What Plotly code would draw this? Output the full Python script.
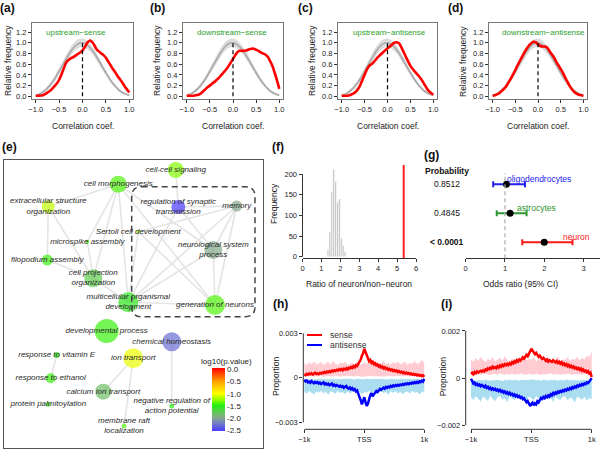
import numpy as np
import plotly.graph_objects as go

W, H = 600, 451
FONT = "Liberation Sans, Arial, sans-serif"

# ---------------- (a)-(d) distribuicao das correlacoes ----------------
corr_titles = ["upstream−sense", "downstream−sense", "upstream−antisense", "downstream−antisense"]

# curva nula (cinza) em -1, -0.9, ..., 1
null_mid = [0.02, 0.05, 0.11, 0.20, 0.32, 0.47, 0.62, 0.77, 0.90, 0.98, 1.00,
            0.96, 0.87, 0.74, 0.59, 0.44, 0.30, 0.19, 0.10, 0.05, 0.02]
null_half = [0.01, 0.02, 0.03, 0.04, 0.05, 0.06, 0.07, 0.08, 0.08, 0.08, 0.08,
             0.08, 0.07, 0.07, 0.06, 0.05, 0.04, 0.03, 0.03, 0.02, 0.01]

# curvas observadas (vermelho) em -1, -0.95, ..., 1
red_a = [0.01, 0.01, 0.015, 0.02, 0.04, 0.07, 0.10, 0.14, 0.19, 0.24, 0.31, 0.41, 0.52, 0.63,
         0.68, 0.71, 0.73, 0.76, 0.79, 0.82, 0.86, 0.92, 1.00, 1.04, 1.02, 0.96, 0.88, 0.84,
         0.80, 0.77, 0.72, 0.65, 0.58, 0.51, 0.45, 0.38, 0.32, 0.26, 0.19, 0.13, 0.07]
red_b = [0.01, 0.01, 0.01, 0.012, 0.02, 0.03, 0.05, 0.09, 0.13, 0.17, 0.20, 0.24, 0.27, 0.31,
         0.35, 0.40, 0.45, 0.50, 0.56, 0.63, 0.70, 0.77, 0.83, 0.85, 0.85, 0.85, 0.86, 0.88,
         0.89, 0.89, 0.87, 0.85, 0.82, 0.80, 0.78, 0.74, 0.66, 0.57, 0.44, 0.30, 0.14]
red_c = [0.01, 0.01, 0.01, 0.015, 0.03, 0.05, 0.08, 0.13, 0.20, 0.30, 0.40, 0.50, 0.57, 0.60,
         0.64, 0.69, 0.74, 0.78, 0.82, 0.86, 0.90, 0.93, 0.97, 1.00, 1.01, 0.99, 0.92, 0.83,
         0.74, 0.65, 0.57, 0.51, 0.46, 0.41, 0.36, 0.30, 0.23, 0.16, 0.10, 0.06, 0.03]
red_d = [0.01, 0.02, 0.04, 0.06, 0.10, 0.14, 0.19, 0.26, 0.33, 0.41, 0.49, 0.58, 0.66, 0.74,
         0.82, 0.89, 0.95, 0.99, 1.02, 1.01, 0.97, 0.94, 0.93, 0.93, 0.91, 0.85, 0.79, 0.73,
         0.65, 0.58, 0.51, 0.44, 0.35, 0.27, 0.19, 0.13, 0.08, 0.05, 0.03, 0.02, 0.01]

# ---------------- (e) rede de termos GO ----------------
go_terms = ["cell-cell signaling", "cell morphogenesis", "extracellular structure<br>organization",
            "regulation of synaptic<br>transmission", "memory", "Sertoli cell development",
            "microspike assembly", "neurological system<br>process", "filopodium assembly",
            "cell projection<br>organization", "multicellular organismal<br>development",
            "generation of neurons", "developmental process", "chemical homeostasis",
            "response to vitamin E", "ion transport", "response to ethanol",
            "calcium ion transport", "negative regulation of<br>action potential",
            "protein palmitoylation", "membrane raft<br>localization"]
node_x = [171.7, 114.3, 44.3, 174.3, 232.7, 134.3, 83.3, 209.3, 43.3, 89.3, 124.3,
          211.0, 102.7, 167.7, 52.7, 129.3, 46.7, 99.3, 167.7, 44.3, 120.0]
node_y = [10.0, 24.3, 46.7, 47.0, 46.0, 71.7, 81.7, 90.0, 100.0, 118.3, 142.3,
          145.0, 171.0, 181.7, 195.0, 198.3, 218.3, 231.7, 246.0, 244.3, 266.0]
node_size = [16, 17, 13, 14, 11, 4, 4, 18, 11, 18, 20, 20, 24, 19, 6, 20, 10, 16, 5, 5, 5]
node_logp = [-1.3, -1.4, -1.15, -2.55, -2.0, -1.2, -1.4, -2.0, -1.45, -1.75, -1.55,
             -1.4, -1.45, -2.3, -1.5, -1.05, -1.45, -1.85, -1.5, -1.45, -1.4]
edges = [(0, 3), (1, 2), (1, 6), (1, 9), (1, 10), (1, 11), (1, 7), (2, 8), (2, 9), (8, 9),
         (6, 9), (9, 10), (3, 4), (3, 7), (3, 10), (4, 7), (4, 11), (4, 5), (4, 10), (5, 11),
         (5, 10), (7, 10), (7, 11), (10, 11), (15, 17), (15, 20), (13, 18), (14, 16)]
cluster_box = (127.7, 26.7, 251.0, 156.7)

# ---------------- (f) histograma ----------------
hist_centers = [1.35, 1.45, 1.55, 1.65, 1.75, 1.85, 1.95, 2.05, 2.15, 2.25]
hist_counts = [18, 60, 158, 212, 182, 132, 140, 45, 28, 12]
observed_ratio = 5.35

# ---------------- (g) odds ratio ----------------
cell_types = ["oligodendrocytes", "astrocytes", "neuron"]
cell_colors = ["#2222ee", "#2f942f", "#ff1a1a"]
odds = [1.04, 1.13, 2.00]
ci_low = [0.70, 0.79, 1.44]
ci_high = [1.51, 1.55, 2.72]
probs = ["0.8512", "0.4845", "<b>< 0.0001</b>"]
row_y = [3, 2, 1]
label_x = [1.87, 1.80, 2.83]

# ---------------- (h),(i) perfis em torno do TSS (x1e-4) ----------------
series_names = ["sense", "antisense"]
series_colors = ["#ff0000", "#0000ff"]
h_sense = [2.3, 1.8, 2.6, 2.1, 2.9, 2.4, 3.1, 2.2, 2.8, 3.4,
           2.6, 3.0, 2.5, 3.3, 2.9, 3.6, 3.1, 4.0, 3.4, 4.2,
           3.7, 4.5, 3.9, 4.8, 4.3, 5.1, 4.6, 5.4, 4.9, 5.8,
           5.2, 5.9, 5.0, 6.1, 5.5, 6.4, 5.7, 6.8, 6.2, 7.3,
           6.6, 7.8, 7.1, 8.4, 7.9, 9.2, 10.5, 12.3, 14.8, 16.5,
           19.6, 17.2, 15.1, 13.4, 11.2, 12.0, 10.1, 10.8, 9.2, 9.9,
           8.4, 9.0, 7.6, 8.3, 7.0, 7.6, 6.4, 7.1, 5.9, 6.5,
           5.4, 6.0, 5.0, 5.6, 4.6, 5.2, 4.3, 4.9, 3.9, 4.5,
           3.6, 4.1, 3.2, 3.8, 2.9, 3.5, 2.7, 3.2, 2.4, 2.9,
           2.1, 2.7, 1.9, 2.4, 1.6, 2.1, 1.4, 1.9, 1.1, 1.6, 0.6]
h_anti = [-1.2, -2.4, -1.9, -3.1, -2.6, -3.4, -2.2, -3.0, -3.7, -2.8,
          -3.5, -2.9, -3.9, -3.3, -4.2, -3.6, -3.0, -4.4, -3.8, -4.6,
          -4.0, -5.1, -4.4, -3.9, -5.3, -4.7, -5.6, -4.9, -5.4, -6.0,
          -5.3, -6.2, -5.7, -6.8, -6.0, -5.5, -6.9, -7.3, -6.5, -7.7,
          -7.0, -8.2, -7.6, -9.1, -8.5, -10.4, -12.6, -15.2, -17.9, -14.8,
          -13.1, -16.4, -18.9, -17.5, -14.2, -11.6, -10.3, -12.4, -11.2, -9.8,
          -8.9, -9.6, -8.3, -7.5, -8.1, -7.0, -6.6, -7.3, -6.2, -6.8,
          -5.9, -6.4, -5.5, -6.1, -5.2, -5.8, -4.9, -5.5, -4.7, -5.3,
          -4.5, -5.0, -4.2, -4.8, -3.9, -4.5, -3.7, -4.3, -3.5, -4.0,
          -3.2, -3.8, -2.9, -3.5, -2.7, -3.3, -2.4, -2.9, -1.9, -2.5, -0.6]
i_sense = [1.7, 2.2, 1.6, 2.5, 2.0, 2.8, 2.3, 2.6, 3.1, 2.7,
           3.2, 2.8, 3.6, 3.3, 4.1, 3.7, 4.4, 4.0, 4.8, 4.2,
           4.6, 4.1, 5.0, 4.5, 5.3, 4.8, 5.6, 5.1, 5.9, 5.4,
           6.0, 5.5, 6.3, 5.8, 6.7, 6.2, 7.1, 6.6, 7.5, 7.0,
           7.9, 7.4, 8.3, 8.8, 8.2, 9.3, 9.8, 9.2, 10.6, 11.3,
           12.4, 11.6, 10.8, 10.1, 10.7, 9.6, 9.0, 9.5, 8.6, 8.1,
           8.6, 7.7, 7.3, 7.9, 7.0, 7.6, 7.2, 6.8, 7.5, 7.0,
           6.6, 7.2, 6.4, 6.9, 6.1, 6.7, 5.7, 6.2, 5.4, 5.9,
           5.0, 5.5, 4.7, 5.2, 4.4, 4.9, 4.1, 4.5, 3.8, 4.3,
           3.5, 4.0, 3.1, 3.6, 2.8, 3.2, 2.4, 2.9, 1.9, 2.3, 0.4]
i_anti = [-0.3, -1.6, -2.4, -2.0, -2.9, -2.5, -3.2, -2.8, -3.5, -3.0,
          -3.4, -3.9, -3.3, -4.2, -3.8, -4.6, -4.1, -4.9, -4.4, -5.0,
          -4.6, -5.3, -4.9, -5.6, -5.1, -5.8, -5.4, -6.2, -5.7, -6.5,
          -6.0, -6.8, -6.3, -7.1, -6.7, -7.5, -7.0, -7.8, -7.3, -8.1,
          -7.7, -8.5, -8.1, -9.0, -8.6, -9.6, -10.3, -9.8, -11.2, -11.9,
          -11.1, -10.5, -11.6, -10.8, -11.2, -9.9, -10.4, -9.1, -8.5, -8.9,
          -8.1, -8.6, -7.7, -8.2, -7.4, -7.9, -6.9, -7.4, -6.4, -6.9,
          -6.1, -6.6, -5.8, -6.2, -5.5, -5.9, -5.2, -5.6, -4.9, -5.3,
          -4.6, -5.0, -4.3, -4.7, -3.9, -4.3, -3.6, -4.0, -3.2, -3.6,
          -2.9, -3.3, -2.6, -3.0, -2.3, -2.6, -1.9, -2.2, -1.5, -1.2, -0.1]

# faixas nulas (x1e-4)
h_pink_hi = [9.8, 8.6, 10.4, 9.1, 11.2, 8.9, 9.7, 10.8, 8.4, 9.9, 10.6, 9.0, 11.5, 9.4, 8.8, 10.1,
             9.6, 11.0, 8.7, 9.8, 10.3, 9.2, 10.9, 9.5, 8.9, 10.7, 9.3, 11.1, 9.0, 9.9, 10.5, 8.8,
             9.7, 11.3, 9.1, 10.2, 8.9, 10.6, 9.4, 11.0, 9.2, 9.9, 10.8, 8.7, 10.1, 9.5, 11.4, 9.3,
             10.0, 12.2, 9.6]
h_pink_lo = [1.2, 0.8, 1.0, 1.4, 0.7, 1.1, 0.9, 1.3, 0.6, 1.0, 1.2, 0.8, 1.1, 1.5, 0.9, 0.7,
             1.2, 1.0, 1.3, 0.8, 1.1, 0.9, 1.4, 1.0, 0.7, 1.2, 0.9, 1.1, 1.3, 0.8, 1.0, 1.2,
             0.7, 1.1, 0.9, 1.4, 1.0, 0.8, 1.2, 1.0, 0.9, 1.3, 0.7, 1.1, 1.0, 1.2, 0.8, 1.1,
             0.9, 1.3, 1.0]
h_blue_hi = [-0.9, -0.6, -1.1, -0.7, -0.9, -1.2, -0.6, -0.8, -1.0, -0.7, -1.1, -0.8, -0.6, -1.0,
             -0.9, -1.3, -0.7, -0.8, -1.0, -0.6, -0.9, -1.1, -0.7, -0.8, -1.2, -0.9, -0.6, -1.0,
             -0.8, -0.7, -1.1, -0.9, -0.6, -0.8, -1.0, -1.2, -0.7, -0.9, -0.8, -1.1, -0.6, -0.9,
             -1.0, -0.7, -0.8, -1.2, -0.9, -0.6, -1.0, -0.8, -0.9]
h_blue_lo = [-9.6, -10.8, -8.9, -9.9, -11.2, -9.2, -10.1, -8.8, -10.6, -9.4, -11.5, -9.0, -9.8,
             -10.7, -8.7, -10.2, -9.5, -11.0, -9.1, -10.4, -9.7, -8.9, -10.9, -9.3, -11.3, -9.6,
             -10.0, -8.8, -10.5, -9.2, -11.1, -9.8, -9.0, -10.3, -9.5, -11.4, -9.1, -10.0, -8.9,
             -10.6, -9.4, -11.0, -9.7, -9.2, -10.5, -8.8, -10.1, -9.6, -11.2, -9.3, -10.0]
i_pink_hi = [7.8, 6.9, 8.5, 7.2, 9.1, 7.6, 6.8, 8.2, 7.4, 8.9, 7.0, 7.9, 8.6, 7.3, 9.4, 7.7,
             6.9, 8.3, 7.5, 8.8, 7.1, 8.0, 9.2, 7.4, 8.1, 7.6, 8.7, 7.0, 7.9, 9.0, 7.3, 8.4,
             7.7, 6.8, 8.6, 7.5, 9.3, 7.2, 8.0, 7.6, 8.9, 7.1, 8.2, 7.8, 9.0, 7.4, 8.5, 7.9,
             9.6, 8.8, 11.5]
i_pink_lo = [1.8, 1.4, 1.7, 2.0, 1.3, 1.6, 1.9, 1.5, 1.2, 1.7, 1.8, 1.4, 2.1, 1.6, 1.3, 1.8,
             1.5, 1.9, 1.4, 1.7, 1.6, 2.0, 1.3, 1.5, 1.8, 1.7, 1.4, 1.9, 1.6, 1.2, 1.8, 1.5,
             1.7, 2.0, 1.4, 1.6, 1.8, 1.3, 1.7, 1.5, 1.9, 1.6, 1.4, 1.8, 1.5, 1.7, 1.3, 1.9,
             1.6, 1.4, 1.7]
i_blue_hi = [-1.0, -0.7, -1.2, -0.8, -0.9, -1.1, -0.6, -0.9, -1.2, -0.8, -1.0, -0.7, -0.9, -1.3,
             -0.8, -1.0, -0.6, -1.1, -0.9, -0.8, -1.2, -0.7, -1.0, -0.9, -1.1, -0.8, -0.6, -1.0,
             -0.9, -1.2, -0.7, -0.8, -1.1, -0.9, -1.0, -0.7, -1.2, -0.8, -0.9, -1.0, -0.6, -1.1,
             -0.9, -0.8, -1.0, -1.2, -0.7, -0.9, -1.0, -0.8, -0.9]
i_blue_lo = [-8.3, -9.4, -7.6, -8.8, -10.1, -7.9, -8.6, -9.7, -7.5, -8.9, -9.9, -8.1, -7.7, -9.2,
             -8.5, -10.3, -7.8, -8.7, -9.5, -8.0, -7.6, -9.0, -8.4, -10.0, -7.9, -8.6, -9.3, -7.7,
             -8.8, -9.8, -8.2, -7.5, -9.1, -8.5, -10.2, -7.8, -8.9, -9.4, -8.1, -7.6, -9.6, -8.3,
             -8.8, -10.4, -7.9, -8.6, -9.2, -8.0, -9.7, -8.4, -9.0]


# ---------------- helpers ----------------
def px_x(p):
    return p / W


def px_y(p):
    return 1 - p / H


def ref(n):
    return ("x", "y") if n == 1 else (f"x{n}", f"y{n}")


def key(n):
    return ("xaxis", "yaxis") if n == 1 else (f"xaxis{n}", f"yaxis{n}")


def scale(v):
    return np.array(v) * 1e-4


def band(xs_hi, hi, xs_lo, lo):
    return list(xs_hi) + list(xs_lo[::-1]), list(hi) + list(lo[::-1])


tick_style = dict(showgrid=False, zeroline=False, ticks="outside", ticklen=3, tickwidth=1,
                  tickcolor="#333", automargin=False,
                  tickfont=dict(size=7.5, color="#222", family=FONT))

fig = go.Figure()
axes = {}
shapes = []
annots = []


def text(x, y, s, size=8.5, color="#222", angle=0, xref="paper", yref="paper",
         xanchor="center", yanchor="middle"):
    annots.append(dict(x=x, y=y, xref=xref, yref=yref, text=s, showarrow=False, textangle=angle,
                       xanchor=xanchor, yanchor=yanchor,
                       font=dict(size=size, color=color, family=FONT)))


# ---------------- (a)-(d) ----------------
null_x = np.linspace(-1, 1, len(null_mid))
corr_x = np.linspace(-1, 1, len(red_a))
null_lo = [m - h for m, h in zip(null_mid, null_half)]
null_hi = [m + h for m, h in zip(null_mid, null_half)]
reds = [red_a, red_b, red_c, red_d]
top_dom = [(32, 133), (183, 283), (338, 437), (489, 587)]
title_x = [-0.14, -0.03, 0.04, 0.12]
tag_x = [7, 157, 305, 455]
ylab_x = [8, 157, 312, 463]

for i in range(4):
    n = i + 1
    xr, yr = ref(n)
    bx, by = band(null_x, null_hi, null_x, null_lo)
    fig.add_trace(go.Scatter(x=bx, y=by, fill="toself", fillcolor="#dcdcdc", mode="lines",
                             line=dict(width=0, shape="spline"), xaxis=xr, yaxis=yr,
                             showlegend=False, hoverinfo="skip"))
    fig.add_trace(go.Scatter(x=null_x, y=null_mid, mode="lines",
                             line=dict(color="#a9a9a9", width=1.6, shape="spline"),
                             xaxis=xr, yaxis=yr, showlegend=False))
    fig.add_trace(go.Scatter(x=corr_x, y=reds[i], mode="lines",
                             line=dict(color="#ff0000", width=2.6, shape="spline"),
                             xaxis=xr, yaxis=yr, showlegend=False))
    fig.add_trace(go.Scatter(x=[0, 0], y=[0, float(np.interp(0, null_x, null_mid))], mode="lines",
                             line=dict(color="black", width=1.2, dash="4px,3px"),
                             xaxis=xr, yaxis=yr, showlegend=False))
    xk, yk = key(n)
    a, b = top_dom[i]
    axes[xk] = dict(domain=[px_x(a), px_x(b)], range=[-1.08, 1.08], anchor=yr,
                    tickvals=[-1, -0.5, 0, 0.5, 1], ticktext=["−1.0", "−0.5", "0.0", "0.5", "1.0"],
                    showline=True, mirror=True, linecolor="#777", linewidth=1, **tick_style)
    axes[yk] = dict(domain=[px_y(99), px_y(23)], range=[-0.05, 1.37], anchor=xr,
                    tickvals=[0, 0.2, 0.4, 0.6, 0.8, 1.0, 1.2],
                    ticktext=["0.0", "0.2", "0.4", "0.6", "0.8", "1.0", "1.2"],
                    showline=True, mirror=True, linecolor="#777", linewidth=1, **tick_style)
    text(title_x[i], 1.19, corr_titles[i], size=8, color="#2ca02c", xref=xr, yref=yr)
    text(px_x((a + b) / 2), px_y(126), "Correlation coef.")
    text(px_x(ylab_x[i]), px_y(61), "Relative frequency", angle=-90)
    text(px_x(tag_x[i]), px_y(8), "<b>(%s)</b>" % "abcd"[i], size=12, color="#111")

# ---------------- (e) rede ----------------
n = 5
xr, yr = ref(n)
ex, ey = [], []
for s, t in edges:
    ex += [node_x[s], node_x[t], None]
    ey += [node_y[s], node_y[t], None]
fig.add_trace(go.Scatter(x=ex, y=ey, mode="lines", line=dict(color="#e4e4e4", width=1.6),
                         xaxis=xr, yaxis=yr, showlegend=False, hoverinfo="skip"))
colorscale = [[0.0, "#4a3cff"], [0.115, "#6f78c8"], [0.2115, "#84a88c"], [0.3077, "#5ecc4c"],
              [0.4038, "#22ee11"], [0.5, "#99ff00"], [0.596, "#ffff00"], [0.788, "#ffa000"],
              [1.0, "#ff0000"]]
fig.add_trace(go.Scatter(
    x=node_x, y=node_y, mode="markers+text", text=["<i>%s</i>" % t for t in go_terms],
    textposition="middle center", textfont=dict(size=8, color="#2a2a2a", family=FONT),
    marker=dict(size=node_size, color=node_logp, colorscale=colorscale, cmin=-2.55, cmax=0.05,
                opacity=0.7, line=dict(width=0),
                colorbar=dict(x=px_x(212), xanchor="left", y=px_y(368.3), yanchor="top",
                              len=63.4 / H, lenmode="fraction", thickness=13, outlinewidth=0,
                              xpad=0, ypad=0, ticks="",
                              tickvals=[0, -0.5, -1, -1.5, -2, -2.5],
                              ticktext=["0.0", "-0.5", "-1.0", "-1.5", "-2.0", "-2.5"],
                              tickfont=dict(size=8, color="#222", family=FONT))),
    xaxis=xr, yaxis=yr, showlegend=False))
x0, y0, x1, y1 = cluster_box
r = 10
shapes.append(dict(type="path", xref=xr, yref=yr,
                   line=dict(color="#444", width=1.5, dash="6px,4px"),
                   path=(f"M {x0 + r},{y0} L {x1 - r},{y0} Q {x1},{y0} {x1},{y0 + r} "
                         f"L {x1},{y1 - r} Q {x1},{y1} {x1 - r},{y1} L {x0 + r},{y1} "
                         f"Q {x0},{y1} {x0},{y1 - r} L {x0},{y0 + r} Q {x0},{y0} {x0 + r},{y0} Z")))
xk, yk = key(n)
axes[xk] = dict(domain=[px_x(4), px_x(263)], range=[0, 259], anchor=yr, showline=True, mirror=True,
                linecolor="#555", linewidth=1, showticklabels=False, ticks="", showgrid=False,
                zeroline=False, automargin=False)
axes[yk] = dict(domain=[px_y(448), px_y(160)], range=[288, 0], anchor=xr, showline=True,
                mirror=True, linecolor="#555", linewidth=1, showticklabels=False, ticks="",
                showgrid=False, zeroline=False, automargin=False)
text(px_x(226.7), px_y(361.5), "log10(p.value)", size=8)
text(px_x(9), px_y(147), "<b>(e)</b>", size=12, color="#111")

# ---------------- (f) histograma ----------------
n = 6
xr, yr = ref(n)
fig.add_trace(go.Bar(x=hist_centers, y=hist_counts, width=0.1,
                     marker=dict(color="#c4c4c4", line=dict(color="white", width=0.6)),
                     xaxis=xr, yaxis=yr, showlegend=False))
shapes.append(dict(type="line", xref=xr, yref=f"{yr} domain", x0=observed_ratio, x1=observed_ratio,
                   y0=0, y1=1, line=dict(color="#ff2020", width=2)))
shapes.append(dict(type="line", xref=f"{xr} domain", yref=yr, x0=0, x1=0, y0=0, y1=200,
                   line=dict(color="#333", width=1)))
xk, yk = key(n)
axes[xk] = dict(domain=[px_x(302.5), px_x(416)], range=[0, 6], anchor=yr,
                tickvals=[0, 1, 2, 3, 4, 5, 6], showline=True, linecolor="#333", linewidth=1,
                **tick_style)
axes[yk] = dict(domain=[px_y(258), px_y(165)], range=[-3, 222], anchor=xr,
                tickvals=[0, 50, 100, 150, 200], showline=False, **tick_style)
text(px_x(359), px_y(284), "Ratio of neuron/non−neuron", size=8.5)
text(px_x(274), px_y(204), "Frequency", angle=-90)
text(px_x(277.5), px_y(147), "<b>(f)</b>", size=12, color="#111")

# ---------------- (g) odds ratio ----------------
n = 7
xr, yr = ref(n)
for k in range(len(cell_types)):
    fig.add_trace(go.Scatter(
        x=[odds[k]], y=[row_y[k]], mode="markers",
        marker=dict(color="black", size=7),
        error_x=dict(type="data", symmetric=False, array=[ci_high[k] - odds[k]],
                     arrayminus=[odds[k] - ci_low[k]], color=cell_colors[k], thickness=2, width=3),
        xaxis=xr, yaxis=yr, showlegend=False))
    text(label_x[k], row_y[k] + 0.19, cell_types[k], size=8.5, color=cell_colors[k],
         xref=xr, yref=yr)
    text(px_x(446.7), row_y[k], probs[k], size=8.5, color="#111", yref=yr)
shapes.append(dict(type="line", xref=xr, yref=yr, x0=1, x1=1, y0=0.45, y1=3.38,
                   line=dict(color="#aaaaaa", width=1.2, dash="4px,3px")))
xk, yk = key(n)
axes[xk] = dict(domain=[px_x(465.7), 1], range=[0, 3.42], anchor=yr, tickvals=[0, 1, 2, 3],
                showline=True, linecolor="#333", linewidth=1, **tick_style)
axes[yk] = dict(domain=[px_y(258.3), px_y(169.8)], range=[0.45, 3.5], anchor=xr, visible=False,
                automargin=False)
text(px_x(446.7), px_y(170.7), "<b>Probability</b>", size=8.5, color="#111")
text(px_x(520), px_y(284), "Odds ratio (95% CI)", size=8.5)
text(px_x(431), px_y(155), "<b>(g)</b>", size=12, color="#111")

# ---------------- (h),(i) perfis TSS ----------------
profiles = [
    (8, h_sense, h_anti, h_pink_hi, h_pink_lo, h_blue_hi, h_blue_lo,
     (303.3, 425.3), (326.3, 429.3), [-1017, 1017], [-0.00347, 0.00347], 0.003, 280, 276),
    (9, i_sense, i_anti, i_pink_hi, i_pink_lo, i_blue_hi, i_blue_lo,
     (465.7, 597.0), (326.7, 429.3), [-1088, 1088], [-0.00218, 0.00218], 0.002, 446.7, 443.3),
]
for (n, sense, anti, p_hi, p_lo, b_hi, b_lo, xdom, ydom, xrng, yrng, ymax,
     tagx, labx) in profiles:
    xr, yr = ref(n)
    xb = np.linspace(-1000, 1000, len(p_hi))
    bx, by = band(xb, scale(p_hi), xb, scale(p_lo))
    fig.add_trace(go.Scatter(x=bx, y=by, fill="toself", fillcolor="rgba(255,182,193,0.7)",
                             mode="lines", line=dict(width=0), xaxis=xr, yaxis=yr,
                             showlegend=False, hoverinfo="skip"))
    bx, by = band(xb, scale(b_hi), xb, scale(b_lo))
    fig.add_trace(go.Scatter(x=bx, y=by, fill="toself", fillcolor="rgba(135,206,235,0.7)",
                             mode="lines", line=dict(width=0), xaxis=xr, yaxis=yr,
                             showlegend=False, hoverinfo="skip"))
    xl = np.linspace(-1000, 1000, len(sense))
    for vals, nm, col in zip([sense, anti], series_names, series_colors):
        fig.add_trace(go.Scatter(x=xl, y=scale(vals), mode="lines", name=nm,
                                 line=dict(color=col, width=2.5), xaxis=xr, yaxis=yr,
                                 showlegend=False))
    shapes.append(dict(type="line", xref=f"{xr} domain", yref=yr, x0=0, x1=0, y0=-ymax, y1=ymax,
                       line=dict(color="#333", width=1)))
    shapes.append(dict(type="line", xref=xr, yref=f"{yr} domain", x0=-1000, x1=1000, y0=0, y1=0,
                       line=dict(color="#333", width=1)))
    xk, yk = key(n)
    axes[xk] = dict(domain=[px_x(xdom[0]), px_x(xdom[1])], range=xrng, anchor=yr,
                    tickvals=[-1000, 0, 1000], ticktext=["−1k", "TSS", "1k"], showline=False,
                    **tick_style)
    axes[yk] = dict(domain=[px_y(ydom[1]), px_y(ydom[0])], range=yrng, anchor=xr,
                    tickvals=[-ymax, 0, ymax], ticktext=["−%g" % ymax, "0", "%g" % ymax],
                    showline=False, **tick_style)
    text(px_x(labx), px_y(377), "Proportion", angle=-90)
    text(px_x(tagx), px_y(304), "<b>(%s)</b>" % ("h" if n == 8 else "i"), size=12, color="#111")

# legenda compacta do painel (h), no estilo do R
for k, (nm, col) in enumerate(zip(series_names, series_colors)):
    ly = px_y(335 + 10 * k)
    shapes.append(dict(type="line", xref="paper", yref="paper", x0=px_x(307), x1=px_x(322),
                       y0=ly, y1=ly, line=dict(color=col, width=2)))
    text(px_x(328), ly, nm, size=8.5, color="#333", xanchor="left")

fig.update_layout(
    width=W, height=H, autosize=False, margin=dict(l=0, r=0, t=0, b=0),
    paper_bgcolor="white", plot_bgcolor="white",
    font=dict(family=FONT, size=8.5, color="#222"),
    shapes=shapes, annotations=annots, showlegend=False,
    **axes,
)

# pagina sem margem do body, para a figura ficar alinhada no canto
fig.write_html("out.html", config={"displayModeBar": False},
               post_script="document.body.style.margin='0';")
